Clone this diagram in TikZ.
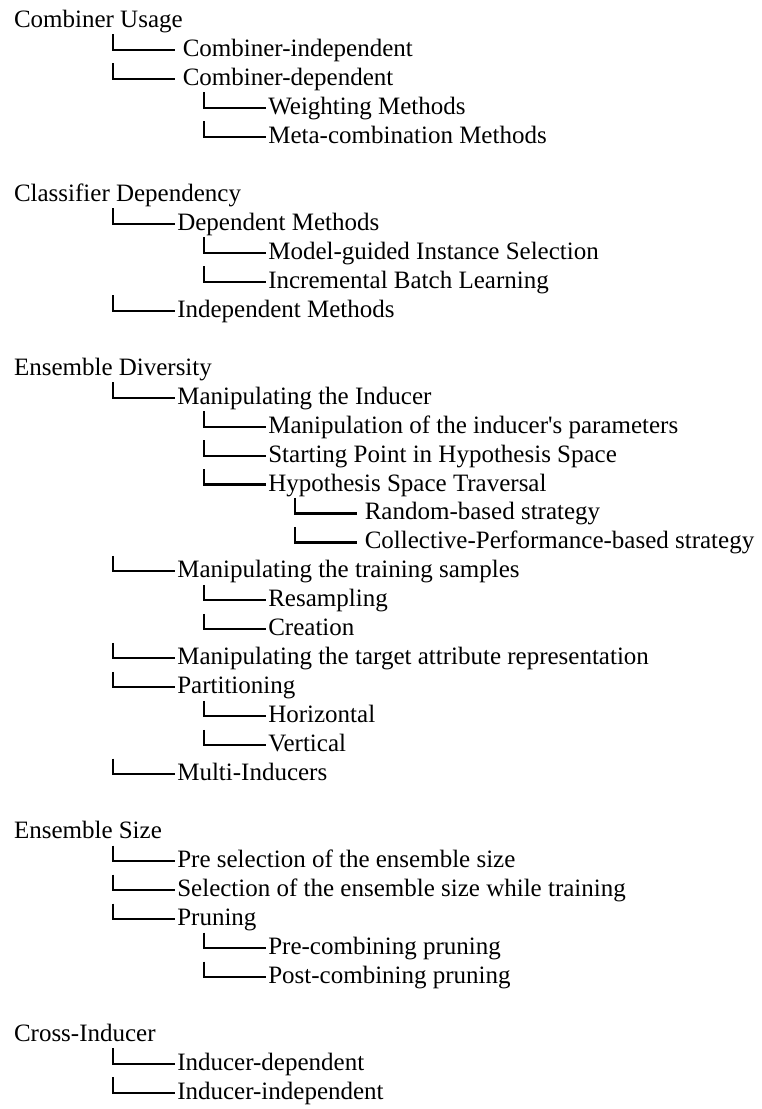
\documentclass[tikz,border=0pt]{standalone}
\usepackage{fontspec}
\setmainfont{Liberation Serif}
\usepackage{tikz}
\usetikzlibrary{positioning, calc}

\def\rowsep{28.97}
\def\rowtop{27.5}
\def\levelstep{91}
\def\elbowx{113.3}

\tikzset{
    entry/.style={anchor=base west, inner sep=0pt, outer sep=0pt,
        font=\fontsize{25}{29}\selectfont},
    elbow/.style={black, line width=2.1pt},
}

\begin{document}
\begin{tikzpicture}[x=1pt, y=1pt]
    \useasboundingbox (0,0) rectangle (761,-1109);

    % one entry per row: row/level/gap/text
    \foreach \i/\lvl/\gap/\txt in {
        0/0/0/Combiner Usage,
        1/1/1/Combiner-independent,
        2/1/1/Combiner-dependent,
        3/2/0/Weighting Methods,
        4/2/0/Meta-combination Methods,
        6/0/0/Classifier Dependency,
        7/1/0/Dependent Methods,
        8/2/0/Model-guided Instance Selection,
        9/2/0/Incremental Batch Learning,
        10/1/0/Independent Methods,
        12/0/0/Ensemble Diversity,
        13/1/0/Manipulating the Inducer,
        14/2/0/Manipulation of the inducer\textquotesingle s parameters,
        15/2/0/Starting Point in Hypothesis Space,
        16/2/0/Hypothesis Space Traversal,
        17/3/1/Random-based strategy,
        18/3/1/Collective-Performance-based strategy,
        19/1/0/Manipulating the training samples,
        20/2/0/Resampling,
        21/2/0/Creation,
        22/1/0/Manipulating the target attribute representation,
        23/1/0/Partitioning,
        24/2/0/Horizontal,
        25/2/0/Vertical,
        26/1/0/Multi-Inducers,
        28/0/0/Ensemble Size,
        29/1/0/Pre selection of the ensemble size,
        30/1/0/Selection of the ensemble size while training,
        31/1/0/Pruning,
        32/2/0/Pre-combining pruning,
        33/2/0/Post-combining pruning,
        35/0/0/Cross-Inducer,
        36/1/0/Inducer-dependent,
        37/1/0/Inducer-independent}{

        \pgfmathsetmacro\by{-(\rowtop + \rowsep*\i)}
        \pgfmathsetmacro\vx{\elbowx + \levelstep*(\lvl - 1)}
        \pgfmathsetmacro\tx{\lvl > 0 ? \vx + 64 + 5.5*\gap : 14}
        \pgfmathsetmacro\dx{2 + 5.5*\gap}

        \node[entry] (n\i) at (\tx, \by) {\txt};

        % draw the elbow in front of a branch
        \ifnum\lvl>0
            \coordinate (k\i) at (\vx, \by + 22);
            \draw[elbow]
                (k\i) |- ([xshift=-\dx pt, yshift=6.5pt]n\i.base west);
        \fi
    }
\end{tikzpicture}
\end{document}
